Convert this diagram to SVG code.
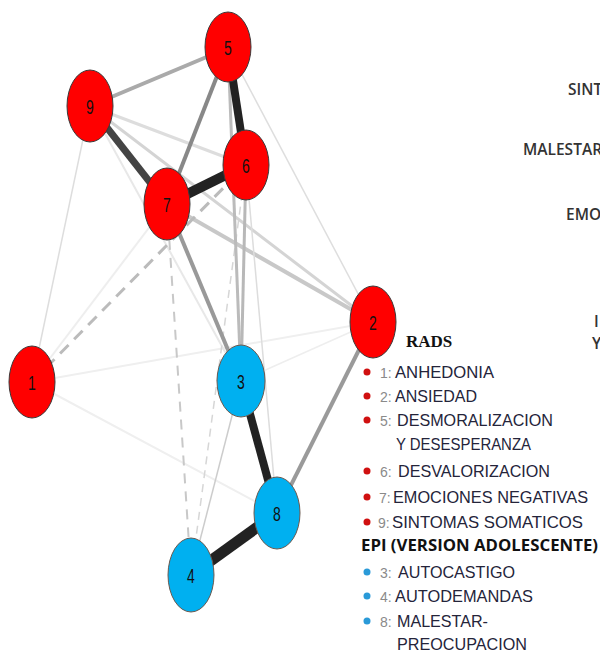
<svg xmlns="http://www.w3.org/2000/svg" width="600" height="653" viewBox="0 0 600 653">
<style>
.n ellipse{stroke:#3a3a3a;stroke-width:1}
.r ellipse{fill:#ff0000}
.b ellipse{fill:#00b0f0;stroke:#6b5a50}
.n text{font-family:"Liberation Sans",Arial,sans-serif;font-size:14px;fill:#111;text-anchor:middle}
#edges line{stroke-linecap:butt}
.lg{font-family:"Liberation Sans",Arial,sans-serif;font-size:16.5px;fill:#24243a}
.num{font-family:"Liberation Sans",Arial,sans-serif;font-size:14px;fill:#8a8a8a}
.tr{font-family:"Open Sans","Liberation Sans",sans-serif;font-size:15.5px;fill:#333;font-weight:600}
</style>
<rect width="600" height="653" fill="#fff"/>
<g id="edges" fill="none">
  <line x1="32" y1="382" x2="373" y2="322" stroke="#efefef" stroke-width="2"/>
  <line x1="32" y1="382" x2="277" y2="513" stroke="#efefef" stroke-width="2"/>
  <line x1="32" y1="382" x2="167" y2="204" stroke="#eeeeee" stroke-width="2"/>
  <line x1="32" y1="382" x2="90" y2="106" stroke="#dddddd" stroke-width="1.5"/>
  <line x1="90" y1="106" x2="241" y2="381" stroke="#e8e8e8" stroke-width="2"/>
  <line x1="90" y1="106" x2="246" y2="165" stroke="#dddddd" stroke-width="3"/>
  <line x1="90" y1="106" x2="373" y2="322" stroke="#d4d4d4" stroke-width="3"/>
  <line x1="167" y1="204" x2="373" y2="322" stroke="#c8c8c8" stroke-width="4"/>
  <line x1="228" y1="48" x2="373" y2="322" stroke="#dedede" stroke-width="1.5"/>
  <line x1="246" y1="165" x2="277" y2="513" stroke="#dddddd" stroke-width="1.5"/>
  <line x1="241" y1="381" x2="373" y2="322" stroke="#eeeeee" stroke-width="1.5"/>
  <line x1="241" y1="381" x2="191" y2="575" stroke="#cccccc" stroke-width="1.5"/>
  <line x1="246" y1="165" x2="191" y2="575" stroke="#d6d6d6" stroke-width="1.5" stroke-dasharray="8 6"/>
  <line x1="167" y1="204" x2="191" y2="575" stroke="#c8c8c8" stroke-width="2" stroke-dasharray="10 8"/>
  <line x1="32" y1="382" x2="246" y2="165" stroke="#bbbbbb" stroke-width="3" stroke-dasharray="12 8"/>
  <line x1="228" y1="48" x2="241" y2="381" stroke="#bbbbbb" stroke-width="3"/>
  <line x1="246" y1="165" x2="241" y2="381" stroke="#b8b8b8" stroke-width="3"/>
  <line x1="167" y1="204" x2="241" y2="381" stroke="#999999" stroke-width="4"/>
  <line x1="373" y1="322" x2="277" y2="513" stroke="#9a9a9a" stroke-width="4"/>
  <line x1="228" y1="48" x2="90" y2="106" stroke="#aaaaaa" stroke-width="4"/>
  <line x1="228" y1="48" x2="167" y2="204" stroke="#888888" stroke-width="4"/>
  <line x1="90" y1="106" x2="167" y2="204" stroke="#444444" stroke-width="7"/>
  <line x1="228" y1="48" x2="246" y2="165" stroke="#222222" stroke-width="8"/>
  <line x1="167" y1="204" x2="246" y2="165" stroke="#222222" stroke-width="10"/>
  <line x1="241" y1="381" x2="277" y2="513" stroke="#222222" stroke-width="8"/>
  <line x1="277" y1="513" x2="191" y2="575" stroke="#222222" stroke-width="11"/>
</g>
<g id="node1" class="n r"><ellipse cx="32" cy="382" rx="23" ry="36"/><text transform="translate(32,382) scale(1,1.5)" y="5">1</text></g>
<g id="node2" class="n r"><ellipse cx="373" cy="322" rx="23" ry="36"/><text transform="translate(373,322) scale(1,1.5)" y="5">2</text></g>
<g id="node3" class="n b"><ellipse cx="241" cy="381" rx="24" ry="36"/><text transform="translate(241,381) scale(1,1.5)" y="5">3</text></g>
<g id="node4" class="n b"><ellipse cx="191" cy="575" rx="23" ry="37"/><text transform="translate(191,575) scale(1,1.5)" y="5">4</text></g>
<g id="node5" class="n r"><ellipse cx="228" cy="47" rx="23" ry="35"/><text transform="translate(228,47) scale(1,1.5)" y="5">5</text></g>
<g id="node6" class="n r"><ellipse cx="246" cy="165" rx="23" ry="35"/><text transform="translate(246,165) scale(1,1.5)" y="5">6</text></g>
<g id="node7" class="n r"><ellipse cx="167" cy="204" rx="23" ry="36"/><text transform="translate(167,204) scale(1,1.5)" y="5">7</text></g>
<g id="node8" class="n b"><ellipse cx="277" cy="513" rx="23" ry="36"/><text transform="translate(277,513) scale(1,1.5)" y="5">8</text></g>
<g id="node9" class="n r"><ellipse cx="90" cy="106" rx="23" ry="36"/><text transform="translate(90,106) scale(1,1.5)" y="5">9</text></g>
<g id="legend">
  <text x="406" y="347" font-family="Liberation Serif,serif" font-weight="bold" font-size="17" fill="#111">RADS</text>
  <g fill="#d01010">
    <circle cx="367" cy="372" r="3.5"/><circle cx="367" cy="396" r="3.5"/><circle cx="367" cy="420" r="3.5"/>
    <circle cx="367" cy="471" r="3.5"/><circle cx="367" cy="497" r="3.5"/><circle cx="367" cy="522" r="3.5"/>
  </g>
  <g fill="#2a9ad8">
    <circle cx="367" cy="572" r="3.5"/><circle cx="367" cy="596" r="3.5"/><circle cx="367" cy="621" r="3.5"/>
  </g>
  <text class="num" x="380" y="378">1:</text><text class="lg" x="395" y="378" textLength="99" lengthAdjust="spacingAndGlyphs">ANHEDONIA</text>
  <text class="num" x="380" y="402">2:</text><text class="lg" x="395" y="402" textLength="82" lengthAdjust="spacingAndGlyphs">ANSIEDAD</text>
  <text class="num" x="380" y="426">5:</text><text class="lg" x="397" y="426" textLength="156" lengthAdjust="spacingAndGlyphs">DESMORALIZACION</text>
  <text class="lg" x="396" y="450" textLength="135" lengthAdjust="spacingAndGlyphs">Y DESESPERANZA</text>
  <text class="num" x="380" y="477">6:</text><text class="lg" x="398" y="477" textLength="152" lengthAdjust="spacingAndGlyphs">DESVALORIZACION</text>
  <text class="num" x="379" y="503">7:</text><text class="lg" x="393" y="503" textLength="195" lengthAdjust="spacingAndGlyphs">EMOCIONES NEGATIVAS</text>
  <text class="num" x="378" y="528">9:</text><text class="lg" x="392" y="528" textLength="191" lengthAdjust="spacingAndGlyphs">SINTOMAS SOMATICOS</text>
  <text x="361" y="551" font-family="Open Sans,Liberation Sans,sans-serif" font-weight="bold" font-size="16.5" fill="#111" textLength="237" lengthAdjust="spacingAndGlyphs">EPI (VERSION ADOLESCENTE)</text>
  <text class="num" x="380" y="578">3:</text><text class="lg" x="398" y="578" textLength="117" lengthAdjust="spacingAndGlyphs">AUTOCASTIGO</text>
  <text class="num" x="380" y="602">4:</text><text class="lg" x="395" y="602" textLength="138" lengthAdjust="spacingAndGlyphs">AUTODEMANDAS</text>
  <text class="num" x="380" y="627">8:</text><text class="lg" x="397" y="627" textLength="91" lengthAdjust="spacingAndGlyphs">MALESTAR-</text>
  <text class="lg" x="397" y="650" textLength="130" lengthAdjust="spacingAndGlyphs">PREOCUPACION</text>
</g>
<g id="right-text">
  <text class="tr" x="568" y="95">SINT</text>
  <text class="tr" x="523" y="155">MALESTAR</text>
  <text class="tr" x="566" y="220">EMO</text>
  <text class="tr" x="594" y="327">I</text>
  <text class="tr" x="592" y="349">Y</text>
</g>
</svg>
